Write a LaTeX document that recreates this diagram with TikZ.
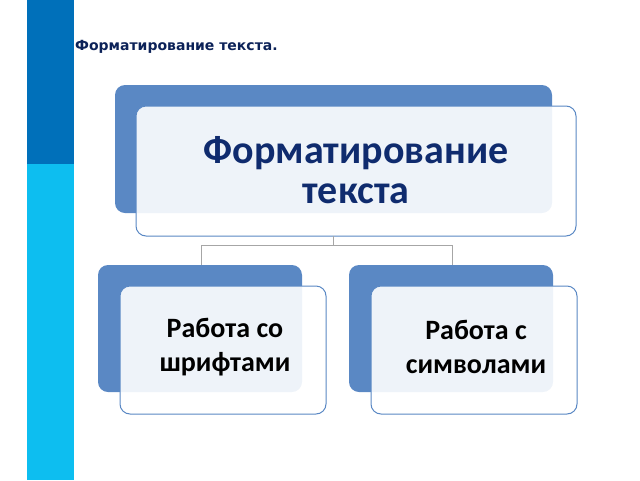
\documentclass[tikz,border=0pt]{standalone}
\usepackage{fontspec}
\setmainfont{Carlito}
\newfontfamily\titlefont{DejaVu Sans}
\begin{document}
\begin{tikzpicture}[x=1pt,y=-1pt,
  backbox/.style={fill=bkblue,rounded corners=10pt},
  frontbox/.style={draw=bkblue,line width=1pt,fill=white,fill opacity=0.9,text opacity=1,rounded corners=10pt},
  conn/.style={draw=gray!70,line width=0.9pt}]
\definecolor{bkblue}{HTML}{5A88C4}
\definecolor{navy}{HTML}{0F2B6E}
\definecolor{darkstrip}{HTML}{0070BA}
\definecolor{lightstrip}{HTML}{0DBEF0}
\useasboundingbox (0,0) rectangle (640,480);
\fill[darkstrip] (27,0) rectangle (74,164);
\fill[lightstrip] (27,164) rectangle (74,480);
\node[anchor=west,inner sep=0pt,text=navy!80!black,font=\titlefont\bfseries\fontsize{14}{16}\selectfont] (title) at (75,47) {Форматирование текста.};
% top
\fill[backbox] (115,85) rectangle (552,213);
\draw[frontbox] (136,106) rectangle (576,236);
\node[text=navy,font=\bfseries\fontsize{40}{40}\selectfont,align=center] (top) at (356,170) {Форматирование\\текста};
% left
\fill[backbox] (98,265) rectangle (302,392);
\draw[frontbox] (120,286) rectangle (326,414);
\node[font=\bfseries\fontsize{28}{34}\selectfont,align=center] (l) at (225,347) {Работа со\\шрифтами};
% right
\fill[backbox] (349,265) rectangle (553,392);
\draw[frontbox] (371,286) rectangle (577,414);
\node[font=\bfseries\fontsize{28}{34}\selectfont,align=center] (r) at (476,347) {Работа с\\символами};
\coordinate (c0) at (333,236);
\coordinate (c1) at (333,245);
\coordinate (cl) at (201,245);
\coordinate (cr) at (452,245);
\draw[conn] (c0) -- (c1);
\draw[conn] (cl) -- (cr);
\draw[conn] (cl) -- (201,265);
\draw[conn] (cr) -- (452,265);
\end{tikzpicture}
\end{document}
